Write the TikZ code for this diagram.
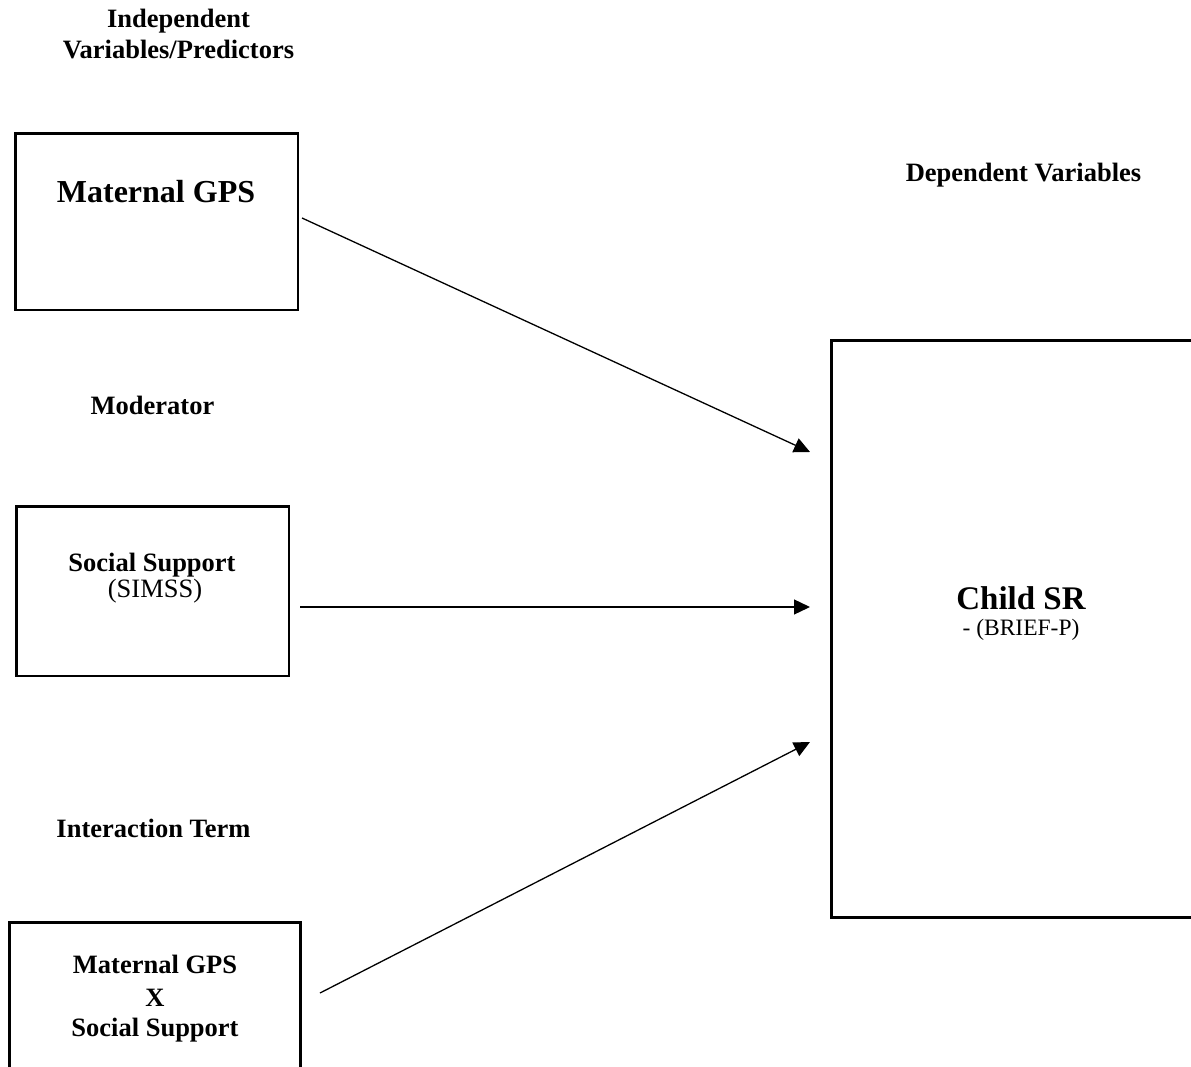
\documentclass[tikz,border=0pt]{standalone}
\usepackage{fontspec}
\setmainfont{Liberation Serif}
\usetikzlibrary{arrows.meta}
\begin{document}
\begin{tikzpicture}[x=1pt,y=-1pt,
  box/.style={draw, line width=2.6pt, inner sep=0pt},
  lbl/.style={anchor=base, inner sep=0pt, font=\fontsize{26.5}{32}\selectfont\bfseries},
  big/.style={anchor=base, inner sep=0pt, font=\fontsize{32}{38}\selectfont\bfseries},
  note/.style={anchor=base, inner sep=0pt, font=\fontsize{26.5}{32}\selectfont},
  small/.style={anchor=base, inner sep=0pt, font=\fontsize{23.5}{28}\selectfont},
  link/.style={line width=1.3pt, -{Triangle[length=16pt,width=15pt]}}]
\useasboundingbox (0,0) rectangle (1191,1067);
\clip (0,0) rectangle (1191,1067);

% column headings
\node[lbl] (indepA) at (178.5,28) {Independent};
\node[lbl] (indepB) at (178.5,59) {Variables/Predictors};
\node[lbl] (dep) at (1023.5,182) {Dependent Variables};
\node[lbl] (mod) at (152.5,414) {Moderator};
\node[lbl] (inter) at (153.5,837) {Interaction Term};

% boxes
\node[box, minimum width=282.5pt, minimum height=176.5pt] (gps) at (156.75,221.75) {};
\node[box, minimum width=272.5pt, minimum height=169.5pt] (ss) at (152.75,591.25) {};
\node[box, minimum width=291pt, minimum height=197.5pt] (ix) at (155,1021.25) {};
\node[box, minimum width=388.5pt, minimum height=577pt] (sr) at (1025.75,629) {};

% box texts
\node[big] (gpsT) at (156,202.5) {Maternal GPS};
\node[lbl] (ssT) at (152,571) {Social Support};
\node[note] (ssM) at (155,597) {(SIMSS)};
\node[lbl] (ixA) at (155,973) {Maternal GPS};
\node[lbl] (ixB) at (155,1006) {X};
\node[lbl] (ixC) at (155,1036.5) {Social Support};
\node[big, font=\fontsize{33}{40}\selectfont\bfseries] (srT) at (1021,609) {Child SR};
\node[small] (srM) at (1021,635) {- (BRIEF-P)};

% connector end points
\coordinate (a1s) at (302,218);
\coordinate (a1e) at (810,452);
\coordinate (a2s) at (300,607);
\coordinate (a2e) at (810,607);
\coordinate (a3s) at (320,993);
\coordinate (a3e) at (810,742);

\draw[link] (a1s) -- (a1e);
\draw[link] (a2s) -- (a2e);
\draw[link] (a3s) -- (a3e);
\end{tikzpicture}
\end{document}
